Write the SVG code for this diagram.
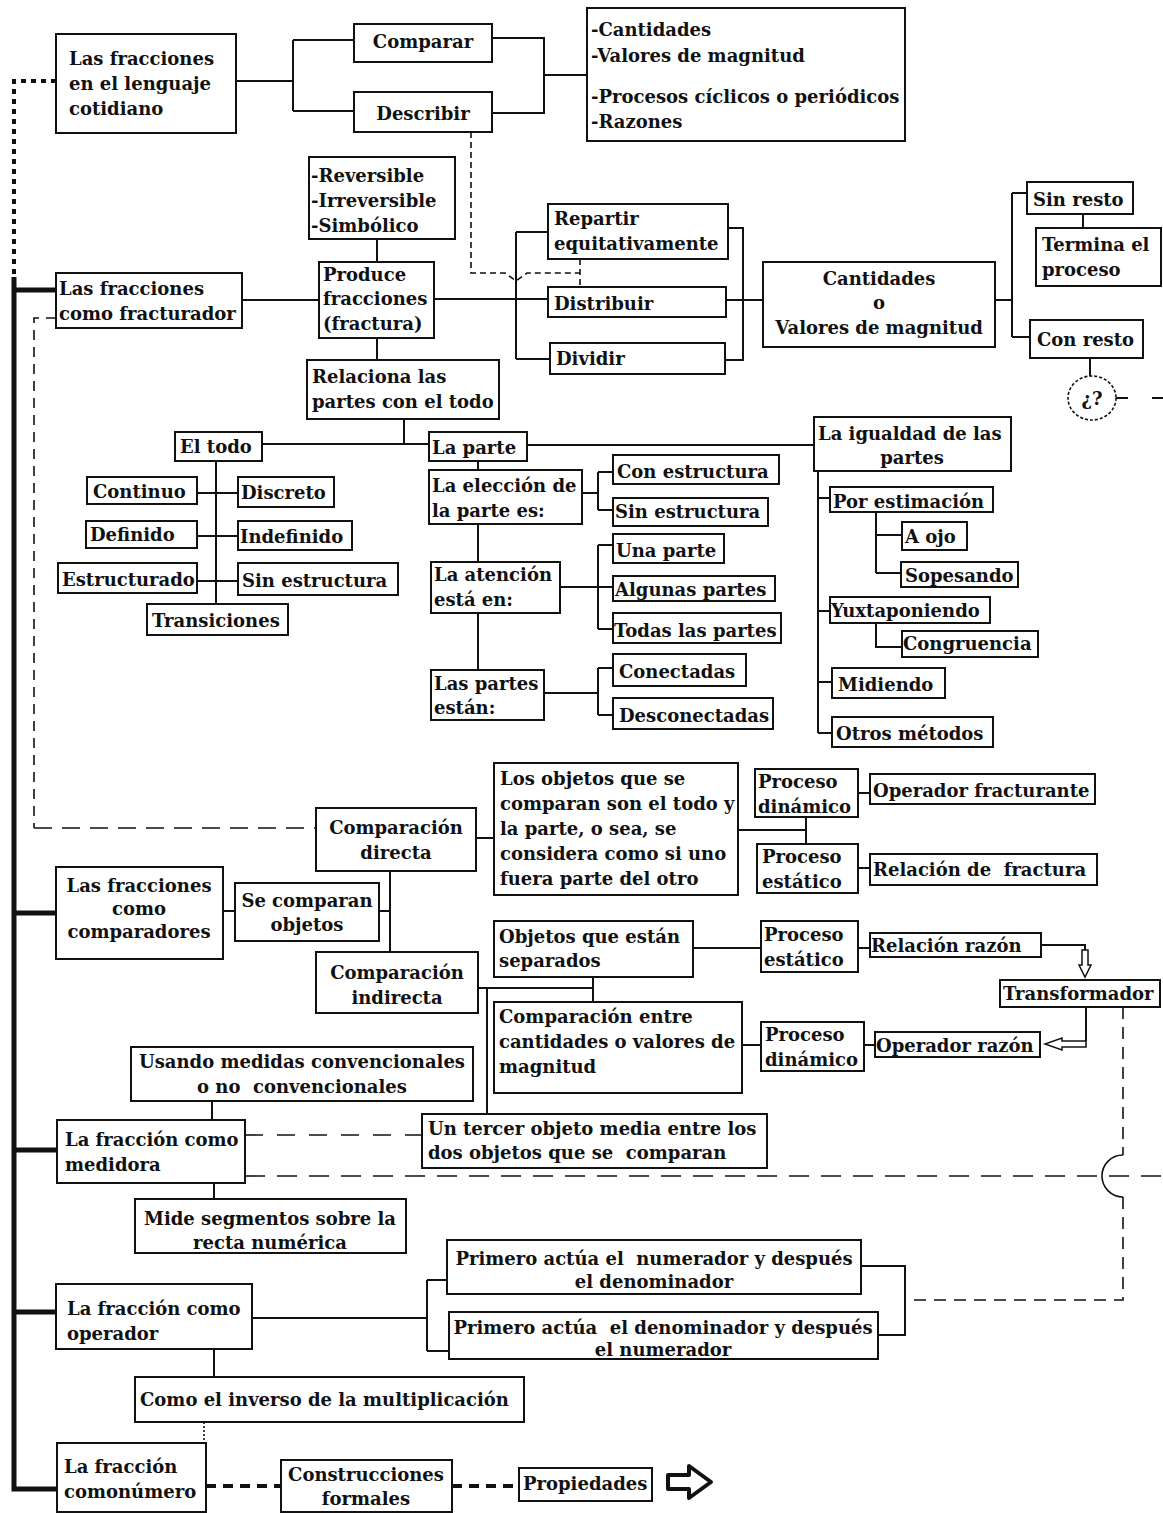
<svg xmlns="http://www.w3.org/2000/svg" width="1163" height="1513" viewBox="0 0 1163 1513">
<style>
.b{fill:#fff;stroke:#111;stroke-width:2}
text{font-family:"DejaVu Serif","Liberation Serif",serif;font-weight:bold;font-size:18px;fill:#111}
.m{text-anchor:middle}
.c{fill:none;stroke:#111;stroke-width:2}
.k{fill:none;stroke:#111;stroke-width:5}
.d{fill:none;stroke:#111;stroke-width:1.6}
</style>
<rect width="1163" height="1513" fill="#fff"/>
<g id="connectors">
<path class="c" d="M236,81H293M293,40V111M293,40H354M293,111H354M492,38H544V113H492M544,75H587M377,239V262M242,300H319M434,299H548M516,232V359M516,232H548M516,359H550M728,228H743V360H725M726,300H763M377,338V360M995,300H1012M1012,193V337M1012,193H1027M1012,337H1030M1083,214V228M1090,358V376M1116,398H1128M1152,398H1163M404,419V444M262,444H429M527,445H814M216,461V604M197,493H238M197,536H238M197,581H238M478,461V470M478,524V562M478,613V670M582,493H598M598,472V510M598,472H613M598,510H613M560,587H613M598,545V629M598,545H613M598,629H613M544,693H598M598,668V715M598,668H613M598,715H613M818,471V733M818,498H830M818,611H830M818,682H832M818,733H832M876,512V573M876,535H902M876,573H901M876,623V647H902M476,838H494M738,830H806M806,817V844M858,793H870M858,868H870M223,911H235M379,911H390M390,871V952M478,988H593M593,977V1002M487,988V1114M693,948H761M858,948H870M1041,945H1085V951M742,1045H761M864,1045H875M1086,1007V1041M212,1101V1120M214,1183V1199M252,1318H427M427,1280V1351M427,1280H447M427,1351H449M861,1266H905V1335H878M214,1349V1377"/>
<path class="k" d="M14,277V1489H57M14,290H56M14,913H56M14,1150H57M14,1312H56"/>
<path fill="none" stroke="#111" stroke-width="4" stroke-dasharray="5 5" d="M56,81H14V277"/>
<path class="d" stroke-dasharray="10 7" d="M56,318H34V828"/>
<path class="d" stroke-dasharray="18 10" d="M34,828H316"/>
<path class="d" stroke-dasharray="6 4" d="M471,132V273H505L516,281L527,273H580M580,259V287"/>
<path class="d" stroke-dasharray="18 14" d="M245,1135H422"/>
<path class="d" stroke-dasharray="20 12" d="M245,1176H1163"/>
<path class="d" stroke-dasharray="12 8" d="M1123,1007V1155"/>
<path class="d" d="M1123,1155A21,21 0 0 0 1123,1197"/>
<path class="d" stroke-dasharray="12 8" d="M1123,1197V1300H905"/>
<path class="d" stroke-dasharray="2 2" d="M204,1422V1443"/>
<path fill="none" stroke="#111" stroke-width="4" stroke-dasharray="10 7" d="M206,1486H281M452,1486H519"/>
<polygon fill="#fff" stroke="#111" stroke-width="1.5" points="1082,950 1088,950 1088,965 1091,965 1085,977 1079,965 1082,965"/>
<polygon fill="#fff" stroke="#111" stroke-width="1.5" points="1086,1041 1062,1041 1062,1038 1045,1044 1062,1050 1062,1047 1086,1047"/>
<polygon fill="#fff" stroke="#111" stroke-width="4" stroke-linejoin="round" points="668,1475 689,1475 689,1466 711,1482 689,1498 689,1489 668,1489"/>
</g>
<g id="n_lenguaje"><rect class="b" x="56" y="34" width="180" height="99"/><text x="69" y="65">Las fracciones</text><text x="69" y="90">en el lenguaje</text><text x="69" y="115">cotidiano</text></g>
<g id="n_comparar"><rect class="b" x="354" y="24" width="138" height="38"/><text class="m" x="423" y="48">Comparar</text></g>
<g id="n_describir"><rect class="b" x="354" y="92" width="138" height="40"/><text class="m" x="423" y="120">Describir</text></g>
<g id="n_lista"><rect class="b" x="587" y="8" width="318" height="133"/><text x="591" y="36">-Cantidades</text><text x="591" y="62">-Valores de magnitud</text><text x="591" y="103">-Procesos cíclicos o periódicos</text><text x="591" y="128">-Razones</text></g>
<g id="n_reversible"><rect class="b" x="309" y="157" width="146" height="82"/><text x="311" y="182">-Reversible</text><text x="311" y="207">-Irreversible</text><text x="311" y="232">-Simbólico</text></g>
<g id="n_produce"><rect class="b" x="319" y="262" width="115" height="76"/><text x="323" y="281">Produce</text><text x="323" y="305">fracciones</text><text x="323" y="330">(fractura)</text></g>
<g id="n_fracturador"><rect class="b" x="56" y="273" width="186" height="55"/><text x="59" y="295">Las fracciones</text><text x="59" y="320">como fracturador</text></g>
<g id="n_repartir"><rect class="b" x="548" y="204" width="180" height="55"/><text x="554" y="225">Repartir</text><text x="554" y="250">equitativamente</text></g>
<g id="n_distribuir"><rect class="b" x="548" y="287" width="178" height="30"/><text x="554" y="310">Distribuir</text></g>
<g id="n_dividir"><rect class="b" x="550" y="343" width="175" height="31"/><text x="556" y="365">Dividir</text></g>
<g id="n_cantvalores"><rect class="b" x="763" y="262" width="232" height="85"/><text class="m" x="879" y="285">Cantidades</text><text class="m" x="879" y="309">o</text><text class="m" x="879" y="334">Valores de magnitud</text></g>
<g id="n_sinresto"><rect class="b" x="1027" y="182" width="106" height="32"/><text x="1033" y="206">Sin resto</text></g>
<g id="n_termina"><rect class="b" x="1036" y="228" width="125" height="58"/><text x="1042" y="251">Termina el</text><text x="1042" y="276">proceso</text></g>
<g id="n_conresto"><rect class="b" x="1030" y="320" width="113" height="38"/><text x="1037" y="346">Con resto</text></g>
<g id="n_q"><ellipse cx="1092" cy="398" rx="24" ry="22" fill="#fff" stroke="#111" stroke-width="1.6" stroke-dasharray="3 2"/><text class="m" x="1092" y="405">¿?</text></g>
<g id="n_relaciona"><rect class="b" x="307" y="360" width="192" height="59"/><text x="312" y="383">Relaciona las</text><text x="312" y="408">partes con el todo</text></g>
<g id="n_eltodo"><rect class="b" x="175" y="432" width="87" height="29"/><text x="180" y="453">El todo</text></g>
<g id="n_laparte"><rect class="b" x="429" y="432" width="98" height="29"/><text x="432" y="454">La parte</text></g>
<g id="n_continuo"><rect class="b" x="87" y="477" width="110" height="27"/><text x="93" y="498">Continuo</text></g>
<g id="n_discreto"><rect class="b" x="238" y="477" width="96" height="30"/><text x="241" y="499">Discreto</text></g>
<g id="n_definido"><rect class="b" x="86" y="521" width="111" height="27"/><text x="90" y="541">Definido</text></g>
<g id="n_indefinido"><rect class="b" x="238" y="521" width="114" height="29"/><text x="240" y="543">Indefinido</text></g>
<g id="n_estructurado"><rect class="b" x="58" y="563" width="139" height="30"/><text x="62" y="586">Estructurado</text></g>
<g id="n_sinestructura1"><rect class="b" x="238" y="563" width="160" height="32"/><text x="242" y="587">Sin estructura</text></g>
<g id="n_transiciones"><rect class="b" x="147" y="604" width="141" height="31"/><text x="152" y="627">Transiciones</text></g>
<g id="n_eleccion"><rect class="b" x="429" y="470" width="153" height="54"/><text x="432" y="492">La elección de</text><text x="432" y="517">la parte es:</text></g>
<g id="n_atencion"><rect class="b" x="431" y="562" width="129" height="51"/><text x="434" y="581">La atención</text><text x="434" y="606">está en:</text></g>
<g id="n_partesestan"><rect class="b" x="431" y="670" width="113" height="50"/><text x="434" y="690">Las partes</text><text x="434" y="714">están:</text></g>
<g id="n_conestructura"><rect class="b" x="613" y="455" width="166" height="29"/><text x="617" y="478">Con estructura</text></g>
<g id="n_sinestructura2"><rect class="b" x="613" y="498" width="155" height="28"/><text x="615" y="518">Sin estructura</text></g>
<g id="n_unaparte"><rect class="b" x="613" y="534" width="111" height="29"/><text x="616" y="557">Una parte</text></g>
<g id="n_algunas"><rect class="b" x="613" y="576" width="162" height="25"/><text x="615" y="596">Algunas partes</text></g>
<g id="n_todas"><rect class="b" x="613" y="613" width="168" height="30"/><text x="614" y="637">Todas las partes</text></g>
<g id="n_conectadas"><rect class="b" x="613" y="654" width="133" height="32"/><text x="619" y="678">Conectadas</text></g>
<g id="n_desconectadas"><rect class="b" x="613" y="698" width="160" height="31"/><text x="619" y="722">Desconectadas</text></g>
<g id="n_igualdad"><rect class="b" x="814" y="417" width="197" height="54"/><text x="818" y="440">La igualdad de las</text><text class="m" x="912" y="464">partes</text></g>
<g id="n_estimacion"><rect class="b" x="830" y="487" width="163" height="25"/><text x="833" y="508">Por estimación</text></g>
<g id="n_aojo"><rect class="b" x="902" y="522" width="65" height="28"/><text x="905" y="543">A ojo</text></g>
<g id="n_sopesando"><rect class="b" x="901" y="562" width="117" height="25"/><text x="905" y="582">Sopesando</text></g>
<g id="n_yuxta"><rect class="b" x="830" y="597" width="160" height="26"/><text x="831" y="617">Yuxtaponiendo</text></g>
<g id="n_congruencia"><rect class="b" x="902" y="631" width="136" height="26"/><text x="903" y="650">Congruencia</text></g>
<g id="n_midiendo"><rect class="b" x="832" y="668" width="113" height="30"/><text x="838" y="691">Midiendo</text></g>
<g id="n_otros"><rect class="b" x="832" y="717" width="161" height="30"/><text x="836" y="740">Otros métodos</text></g>
<g id="n_compdirecta"><rect class="b" x="316" y="808" width="160" height="63"/><text class="m" x="396" y="834">Comparación</text><text class="m" x="396" y="859">directa</text></g>
<g id="n_losobjetos"><rect class="b" x="494" y="763" width="244" height="132"/><text x="500" y="785">Los objetos que se</text><text x="500" y="810">comparan son el todo y</text><text x="500" y="835">la parte, o sea, se</text><text x="500" y="860">considera como si uno</text><text x="500" y="885">fuera parte del otro</text></g>
<g id="n_pdin1"><rect class="b" x="755" y="769" width="103" height="48"/><text x="758" y="788">Proceso</text><text x="758" y="813">dinámico</text></g>
<g id="n_pest1"><rect class="b" x="757" y="844" width="101" height="49"/><text x="762" y="863">Proceso</text><text x="762" y="888">estático</text></g>
<g id="n_opfract"><rect class="b" x="870" y="774" width="225" height="30"/><text x="873" y="797">Operador fracturante</text></g>
<g id="n_relfract"><rect class="b" x="870" y="854" width="227" height="31"/><text x="873" y="876" xml:space="preserve">Relación de  fractura</text></g>
<g id="n_comparadores"><rect class="b" x="56" y="867" width="167" height="92"/><text class="m" x="139" y="892">Las fracciones</text><text class="m" x="139" y="915">como</text><text class="m" x="139" y="938">comparadores</text></g>
<g id="n_secomparan"><rect class="b" x="235" y="883" width="144" height="58"/><text class="m" x="307" y="907">Se comparan</text><text class="m" x="307" y="931">objetos</text></g>
<g id="n_compindirecta"><rect class="b" x="316" y="952" width="162" height="61"/><text class="m" x="397" y="979">Comparación</text><text class="m" x="397" y="1004">indirecta</text></g>
<g id="n_separados"><rect class="b" x="494" y="921" width="199" height="56"/><text x="499" y="943">Objetos que están</text><text x="499" y="967">separados</text></g>
<g id="n_pest2"><rect class="b" x="761" y="921" width="97" height="51"/><text x="764" y="941">Proceso</text><text x="764" y="966">estático</text></g>
<g id="n_relrazon"><rect class="b" x="870" y="933" width="171" height="24"/><text x="871" y="952">Relación razón</text></g>
<g id="n_transformador"><rect class="b" x="1000" y="980" width="160" height="27"/><text x="1003" y="1000">Transformador</text></g>
<g id="n_compentre"><rect class="b" x="494" y="1002" width="248" height="91"/><text x="499" y="1023">Comparación entre</text><text x="499" y="1048">cantidades o valores de</text><text x="499" y="1073">magnitud</text></g>
<g id="n_pdin2"><rect class="b" x="761" y="1022" width="103" height="49"/><text x="765" y="1041">Proceso</text><text x="765" y="1066">dinámico</text></g>
<g id="n_oprazon"><rect class="b" x="875" y="1032" width="165" height="25"/><text x="876" y="1052">Operador razón</text></g>
<g id="n_usando"><rect class="b" x="131" y="1047" width="342" height="54"/><text class="m" x="302" y="1068">Usando medidas convencionales</text><text class="m" x="302" y="1093" xml:space="preserve">o no  convencionales</text></g>
<g id="n_tercer"><rect class="b" x="422" y="1114" width="345" height="54"/><text x="428" y="1135">Un tercer objeto media entre los</text><text x="428" y="1159" xml:space="preserve">dos objetos que se  comparan</text></g>
<g id="n_medidora"><rect class="b" x="57" y="1120" width="188" height="63"/><text x="65" y="1146">La fracción como</text><text x="65" y="1171">medidora</text></g>
<g id="n_mide"><rect class="b" x="135" y="1199" width="271" height="54"/><text class="m" x="270" y="1225">Mide segmentos sobre la</text><text class="m" x="270" y="1249">recta numérica</text></g>
<g id="n_primero1"><rect class="b" x="447" y="1240" width="414" height="54"/><text class="m" x="654" y="1265" xml:space="preserve">Primero actúa el  numerador y después</text><text class="m" x="654" y="1288">el denominador</text></g>
<g id="n_primero2"><rect class="b" x="449" y="1312" width="429" height="47"/><text class="m" x="663" y="1334" xml:space="preserve">Primero actúa  el denominador y después</text><text class="m" x="663" y="1356">el numerador</text></g>
<g id="n_operador"><rect class="b" x="56" y="1284" width="196" height="65"/><text x="67" y="1315">La fracción como</text><text x="67" y="1340">operador</text></g>
<g id="n_inverso"><rect class="b" x="135" y="1377" width="389" height="45"/><text x="140" y="1406">Como el inverso de la multiplicación</text></g>
<g id="n_numero"><rect class="b" x="57" y="1443" width="149" height="69"/><text x="64" y="1473">La fracción</text><text x="64" y="1498">comonúmero</text></g>
<g id="n_construcciones"><rect class="b" x="281" y="1460" width="171" height="52"/><text class="m" x="366" y="1481">Construcciones</text><text class="m" x="366" y="1505">formales</text></g>
<g id="n_propiedades"><rect class="b" x="519" y="1468" width="133" height="33"/><text x="523" y="1490">Propiedades</text></g>
</svg>
